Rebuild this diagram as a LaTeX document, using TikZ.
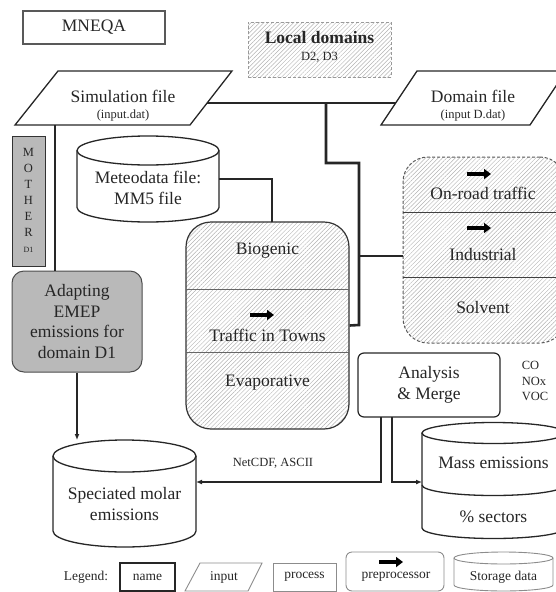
\documentclass[tikz,border=0pt]{standalone}
\usepackage{fontspec}
\setmainfont{Liberation Serif}
\usetikzlibrary{patterns.meta,arrows.meta}
\newcommand\fsmain{\fontsize{17.5}{20.5}\selectfont}
\newcommand\fssub{\fontsize{12.5}{13}\selectfont}
\newcommand\fsleg{\fontsize{13.5}{14}\selectfont}
\begin{document}
\begin{tikzpicture}[x=1pt,y=-1pt,
  lbl/.style={font=\fsmain, align=center, inner sep=0pt, text=black!85},
  sub/.style={font=\fssub, align=center, inner sep=0pt, text=black!85},
  leg/.style={font=\fsleg, align=center, inner sep=0pt, text=black!85},
  hatch/.style={pattern={Lines[angle=45,distance=3pt,line width=0.45pt]}, pattern color=gray!60},
  medln/.style={line width=1.8pt, black!85},
  thickln/.style={line width=2.6pt, black!85},
  thinln/.style={line width=1.3pt, black!85},
  arr/.style={-{Latex[length=6pt,width=5pt]}},
  legshape/.style={draw=gray!90, line width=0.9pt},
  pparr/.pic={\draw[line width=3.6pt,-{Triangle[length=7pt,width=10pt]}] (-12,0) -- (12,0);}
]
\useasboundingbox (0,0) rectangle (556,592);
\clip (0,0) rectangle (556,592);

% MNEQA
\node[draw=gray!70!black, line width=1.3pt, minimum width=142pt, minimum height=33pt, lbl] (mneqa) at (94,27.5) {MNEQA};

% Local domains
\node[draw=gray!80, densely dashed, line width=0.9pt, hatch, minimum width=143pt, minimum height=55pt] (local) at (319.5,49.5) {};
\node[lbl, font=\fsmain\bfseries] (localt) at (319.5,38) {Local domains};
\node[sub] (locals) at (319.5,57) {D2, D3};

% Simulation file
\draw[thinln] (58,71) -- (232,71) -- (190,125) -- (15,125) -- cycle;
\node[lbl] (simt) at (123,96) {Simulation file};
\node[sub] (sims) at (123,115) {(input.dat)};
\coordinate (simR) at (207,103);
\coordinate (simB) at (55,125);

% Domain file
\draw[thinln] (417,71) -- (566,71) -- (530,125) -- (381,125) -- cycle;
\node[lbl] (domt) at (473,96) {Domain file};
\node[sub] (doms) at (473,115) {(input D.dat)};
\coordinate (domL) at (396,103);

% MOTHER
\node[draw=black!80, line width=1pt, fill=gray!55, minimum width=33pt, minimum height=130pt] (mother) at (28.5,201) {};
\foreach \l [count=\i] in {M,O,T,H,E,R}
  \node[sub, font=\fontsize{12.5}{13}\selectfont] (mo\i) at (28.5,136+16*\i) {\l};
\node[sub, font=\fontsize{8}{9}\selectfont] (mod) at (28.5,250) {D1};

% Adapting
\node[draw=black!70, line width=1pt, rounded corners=12pt, fill=gray!55, minimum width=130pt, minimum height=101pt, lbl] (adapt) at (77,321.5) {Adapting\\EMEP\\emissions for\\domain D1};

% Meteodata cylinder
\draw[thinln, fill=white] (77,150.5) -- (77,207.5) arc[start angle=180, end angle=360, x radius=71pt, y radius=14.5pt] -- (219,150.5);
\draw[thinln] (148,150.5) ellipse[x radius=71pt, y radius=14.5pt];
\node[lbl] (met) at (148,188) {Meteodata file:\\MM5 file};
\coordinate (metR) at (219,179);

% Central block
\node[draw=black!80, line width=1.2pt, rounded corners=25pt, hatch, minimum width=163pt, minimum height=207pt] (cent) at (267.5,325.5) {};
\draw[gray!80!black, line width=0.8pt] (186,289) -- (349,289);
\draw[gray!80!black, line width=0.8pt] (186,352) -- (349,352);
\node[lbl] (bio) at (267.5,251) {Biogenic};
\pic (parr1) at (262,315) {pparr};
\node[lbl] (traf) at (267.5,335) {Traffic in Towns};
\node[lbl] (evap) at (267.5,383) {Evaporative};
\coordinate (centT) at (272,222);

% Right block
\node[draw=gray!70!black, densely dashed, line width=1pt, rounded corners=25pt, hatch, minimum width=162pt, minimum height=186pt] (rblk) at (484,250) {};
\draw[black!75, line width=0.8pt] (403,212) -- (565,212);
\draw[black!75, line width=0.8pt] (403,277) -- (565,277);
\pic (parr2) at (479,174) {pparr};
\node[lbl] (onroad) at (483,193) {On-road traffic};
\pic (parr3) at (479,228) {pparr};
\node[lbl] (indus) at (483,255) {Industrial};
\node[lbl] (solv) at (483,308) {Solvent};
\coordinate (rblkL) at (403,256);

% Analysis & Merge
\node[draw=black!85, line width=1.2pt, rounded corners=6pt, minimum width=142pt, minimum height=64pt, lbl] (ana) at (429,385) {Analysis\\\& Merge};
\node[sub, font=\fontsize{12.5}{15.5}\selectfont, align=left] (gases) at (535,381) {CO\\NOx\\VOC};
\coordinate (anaB1) at (381,417);
\coordinate (anaB2) at (392,417);

% Speciated cylinder
\draw[thinln, fill=white] (53,456) -- (53,531) arc[start angle=180, end angle=360, x radius=71.5pt, y radius=16pt] -- (196,456);
\draw[thinln] (124.5,456) ellipse[x radius=71.5pt, y radius=16pt];
\node[lbl] (spec) at (124.5,504) {Speciated molar\\emissions};
\coordinate (specT) at (77,440);
\coordinate (specR) at (196,482);

% Mass emissions cylinder
\draw[thinln, fill=white] (422,433) -- (422,528) arc[start angle=180, end angle=360, x radius=71.5pt, y radius=10.5pt] -- (565,433);
\draw[thinln] (422,485) arc[start angle=180, end angle=360, x radius=71.5pt, y radius=10.5pt];
\draw[thinln] (493.5,433) ellipse[x radius=71.5pt, y radius=10.5pt];
\node[lbl] (mass) at (493.5,463) {Mass emissions};
\node[lbl] (sect) at (493.5,517) {\% sectors};
\coordinate (massL) at (422,482);

% connectors
\coordinate (j1) at (326,103);
\draw[medln] (simR) -- (domL);
\draw[thickln, line join=miter] (j1) -- (326,163) -- (359,163) -- (359,325) -- (cent.east);
\draw[thickln] (359,256) -- (rblkL);
\draw[thickln, line join=miter] (metR) -| (centT);
\draw[thinln] (simB) -- (adapt.north -| simB);
\draw[thinln, arr] (adapt.south) -- (specT);
\draw[thinln, arr] (anaB1) |- (specR);
\draw[thinln, arr] (anaB2) |- (massL);
\node[sub] (netcdf) at (273,463) {NetCDF, ASCII};

% Legend
\node[leg] (legt) at (86,577) {Legend:};
\node[draw=black!85, line width=1.4pt, minimum width=55pt, minimum height=28pt, leg] (lgname) at (147.5,577) {name};
\draw[legshape] (200,563) -- (262,563) -- (248,591) -- (185,591) -- cycle;
\node[leg] (lginput) at (224,577) {input};
\node[legshape, minimum width=63pt, minimum height=28pt, leg] (lgproc) at (304.5,577) {process};
\node[legshape, rounded corners=6pt, minimum width=98pt, minimum height=39pt] (lgpre) at (395,571.5) {};
\pic (parr4) at (391,562) {pparr};
\node[leg] (lgpret) at (396,577) {preprocessor};
\draw[legshape, fill=white] (454,558) -- (454,585) arc[start angle=180, end angle=360, x radius=49.5pt, y radius=6pt] -- (553,558);
\draw[legshape] (503.5,558) ellipse[x radius=49.5pt, y radius=6pt];
\node[leg] (lgstore) at (503.5,577) {Storage data};
\end{tikzpicture}
\end{document}
